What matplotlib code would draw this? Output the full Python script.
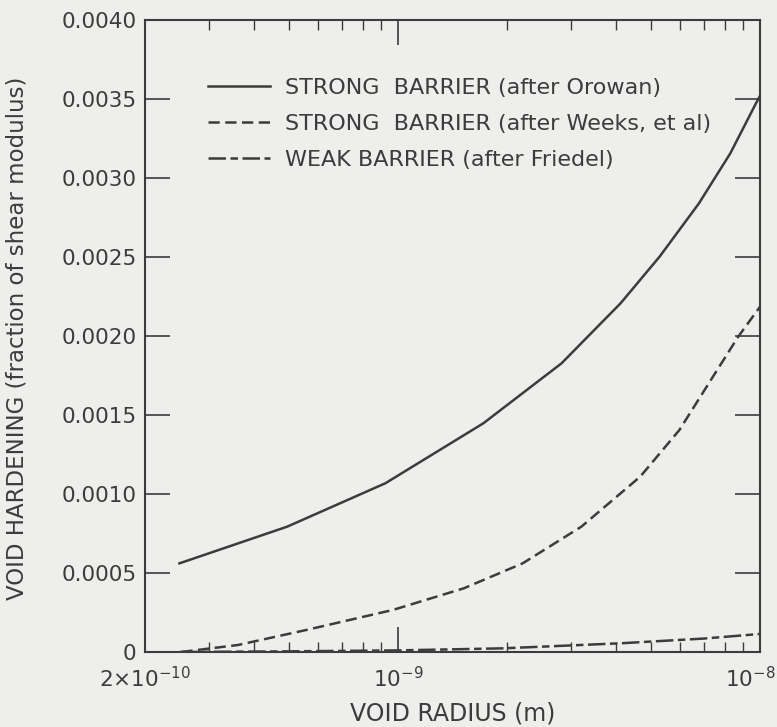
import numpy as np
import matplotlib.pyplot as plt
from matplotlib.ticker import FixedLocator, LogLocator, NullFormatter
from matplotlib.transforms import ScaledTranslation

# Values (void radius in m, hardening as fraction of shear modulus)
orowan_r = [2.49e-10, 4.94e-10, 9.23e-10, 1.72e-9, 2.83e-9, 4.12e-9, 5.28e-9, 6.78e-9, 8.28e-9, 9.75e-9, 1.0e-8]
orowan_h = [0.000561, 0.000793, 0.001068, 0.001447, 0.001827, 0.002207, 0.002502, 0.002839, 0.003156, 0.003473, 0.00352]

weeks_r = [2.52e-10, 3.61e-10, 5.6e-10, 9.68e-10, 1.52e-9, 2.21e-9, 3.21e-9, 4.67e-9, 5.99e-9, 7.31e-9, 8.71e-9, 1.0e-8]
weeks_h = [0.0, 0.000044, 0.00014, 0.000266, 0.000403, 0.000561, 0.000793, 0.00111, 0.001405, 0.00172, 0.001996, 0.002185]

friedel_r = [2.5e-10, 5.0e-10, 1.0e-9, 1.95e-9, 4.12e-9, 7.0e-9, 1.0e-8]
friedel_h = [0.0, 0.000004, 0.00001, 0.000023, 0.000055, 0.000085, 0.000114]

y_ticks = [0, 0.0005, 0.0010, 0.0015, 0.0020, 0.0025, 0.0030, 0.0035, 0.0040]
y_labels = ["0", "0.0005", "0.0010", "0.0015", "0.0020", "0.0025", "0.0030", "0.0035", "0.0040"]
x_ticks = [2e-10, 1e-9, 1e-8]
x_labels = [r"2$\times$10$^{-10}$", r"10$^{-9}$", r"10$^{-8}$"]

ink = "#3c3c3c"
paper = "#eeeeec"

plt.rcParams['font.family'] = ['DejaVu Sans']
fig = plt.figure(figsize=(7.77, 7.27), dpi=100, facecolor=paper)
ax = fig.add_axes([0.1866, 0.1032, 0.7915, 0.8693], facecolor=paper)

ax.plot(orowan_r, orowan_h, color=ink, lw=1.8, ls='-',
        label="STRONG  BARRIER (after Orowan)")
ax.plot(weeks_r, weeks_h, color=ink, lw=1.8, dashes=(4.5, 2.2),
        label="STRONG  BARRIER (after Weeks, et al)")
ax.plot(friedel_r, friedel_h, color=ink, lw=1.8, dashes=(7, 1.8, 3, 1.8),
        label="WEAK BARRIER (after Friedel)")

ax.set_xscale('log')
ax.set_xlim(2e-10, 1e-8)
ax.set_ylim(0, 0.004)

ax.xaxis.set_major_locator(FixedLocator(x_ticks))
ax.set_xticklabels(x_labels)
ax.xaxis.set_minor_locator(LogLocator(base=10, subs=np.arange(2, 10)))
ax.xaxis.set_minor_formatter(NullFormatter())
ax.set_yticks(y_ticks)
ax.set_yticklabels(y_labels)

ax.tick_params(axis='both', which='major', direction='in', length=18, width=1.2,
               color=ink, labelcolor=ink, labelsize=15.5, top=True, right=True)
ax.tick_params(axis='y', which='major', pad=6)
ax.tick_params(axis='x', which='major', pad=10)
ax.tick_params(axis='x', which='minor', direction='in', length=7, width=1.0,
               color=ink, top=True, bottom=True)

# the last x label sits at the right edge, nudge it in a little
xl = ax.get_xticklabels()
xl[-1].set_transform(xl[-1].get_transform() + ScaledTranslation(-0.1, 0, fig.dpi_scale_trans))

for s in ax.spines.values():
    s.set_color(ink)
    s.set_linewidth(1.5)

ax.set_xlabel("VOID RADIUS (m)", color=ink, fontsize=17)
ax.xaxis.set_label_coords(0.5, -0.078)
ax.set_ylabel("VOID HARDENING (fraction of shear modulus)", color=ink, fontsize=16.5)
ax.yaxis.set_label_coords(-0.19, 0.497)

leg = ax.legend(loc='upper left', bbox_to_anchor=(0.102, 0.909), frameon=False,
                fontsize=16, handlelength=2.8, labelspacing=0.72, handletextpad=0.7,
                borderpad=0, borderaxespad=0)
for t in leg.get_texts():
    t.set_color(ink)

fig.savefig("out.png", dpi=100, facecolor=paper)
